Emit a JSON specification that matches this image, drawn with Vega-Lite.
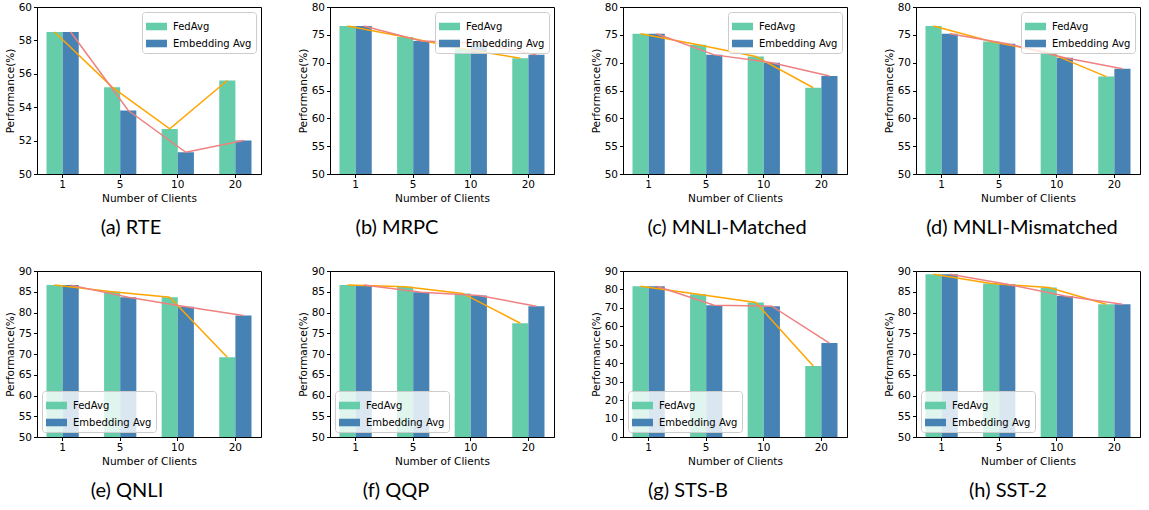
{
  "$schema": "https://vega.github.io/schema/vega-lite/v6.json",
  "padding": {"left": 4, "top": 1, "right": 0, "bottom": 0},
  "background": "white",
  "datasets": {
    "d": [
      {"task": "RTE", "clients": "1", "series": "FedAvg", "value": 58.5},
      {"task": "RTE", "clients": "5", "series": "FedAvg", "value": 55.2},
      {"task": "RTE", "clients": "10", "series": "FedAvg", "value": 52.7},
      {"task": "RTE", "clients": "20", "series": "FedAvg", "value": 55.6},
      {"task": "RTE", "clients": "1", "series": "Embedding Avg", "value": 58.5},
      {"task": "RTE", "clients": "5", "series": "Embedding Avg", "value": 53.8},
      {"task": "RTE", "clients": "10", "series": "Embedding Avg", "value": 51.3},
      {"task": "RTE", "clients": "20", "series": "Embedding Avg", "value": 52.0},
      {"task": "MRPC", "clients": "1", "series": "FedAvg", "value": 76.6},
      {"task": "MRPC", "clients": "5", "series": "FedAvg", "value": 74.6},
      {"task": "MRPC", "clients": "10", "series": "FedAvg", "value": 72.5},
      {"task": "MRPC", "clients": "20", "series": "FedAvg", "value": 70.8},
      {"task": "MRPC", "clients": "1", "series": "Embedding Avg", "value": 76.6},
      {"task": "MRPC", "clients": "5", "series": "Embedding Avg", "value": 73.9},
      {"task": "MRPC", "clients": "10", "series": "Embedding Avg", "value": 73.5},
      {"task": "MRPC", "clients": "20", "series": "Embedding Avg", "value": 71.4},
      {"task": "MNLI-M", "clients": "1", "series": "FedAvg", "value": 75.2},
      {"task": "MNLI-M", "clients": "5", "series": "FedAvg", "value": 73.2},
      {"task": "MNLI-M", "clients": "10", "series": "FedAvg", "value": 71.1},
      {"task": "MNLI-M", "clients": "20", "series": "FedAvg", "value": 65.5},
      {"task": "MNLI-M", "clients": "1", "series": "Embedding Avg", "value": 75.2},
      {"task": "MNLI-M", "clients": "5", "series": "Embedding Avg", "value": 71.4},
      {"task": "MNLI-M", "clients": "10", "series": "Embedding Avg", "value": 70.0},
      {"task": "MNLI-M", "clients": "20", "series": "Embedding Avg", "value": 67.6},
      {"task": "MNLI-MM", "clients": "1", "series": "FedAvg", "value": 76.6},
      {"task": "MNLI-MM", "clients": "5", "series": "FedAvg", "value": 73.8},
      {"task": "MNLI-MM", "clients": "10", "series": "FedAvg", "value": 71.8},
      {"task": "MNLI-MM", "clients": "20", "series": "FedAvg", "value": 67.5},
      {"task": "MNLI-MM", "clients": "1", "series": "Embedding Avg", "value": 75.2},
      {"task": "MNLI-MM", "clients": "5", "series": "Embedding Avg", "value": 73.4},
      {"task": "MNLI-MM", "clients": "10", "series": "Embedding Avg", "value": 70.9},
      {"task": "MNLI-MM", "clients": "20", "series": "Embedding Avg", "value": 68.9},
      {"task": "QNLI", "clients": "1", "series": "FedAvg", "value": 86.6},
      {"task": "QNLI", "clients": "5", "series": "FedAvg", "value": 85.0},
      {"task": "QNLI", "clients": "10", "series": "FedAvg", "value": 83.7},
      {"task": "QNLI", "clients": "20", "series": "FedAvg", "value": 69.2},
      {"task": "QNLI", "clients": "1", "series": "Embedding Avg", "value": 86.6},
      {"task": "QNLI", "clients": "5", "series": "Embedding Avg", "value": 83.7},
      {"task": "QNLI", "clients": "10", "series": "Embedding Avg", "value": 81.4},
      {"task": "QNLI", "clients": "20", "series": "Embedding Avg", "value": 79.3},
      {"task": "QQP", "clients": "1", "series": "FedAvg", "value": 86.6},
      {"task": "QQP", "clients": "5", "series": "FedAvg", "value": 86.2},
      {"task": "QQP", "clients": "10", "series": "FedAvg", "value": 84.6},
      {"task": "QQP", "clients": "20", "series": "FedAvg", "value": 77.4},
      {"task": "QQP", "clients": "1", "series": "Embedding Avg", "value": 86.6},
      {"task": "QQP", "clients": "5", "series": "Embedding Avg", "value": 84.9},
      {"task": "QQP", "clients": "10", "series": "Embedding Avg", "value": 84.1},
      {"task": "QQP", "clients": "20", "series": "Embedding Avg", "value": 81.5},
      {"task": "STS-B", "clients": "1", "series": "FedAvg", "value": 81.7},
      {"task": "STS-B", "clients": "5", "series": "FedAvg", "value": 77.4},
      {"task": "STS-B", "clients": "10", "series": "FedAvg", "value": 72.9},
      {"task": "STS-B", "clients": "20", "series": "FedAvg", "value": 38.5},
      {"task": "STS-B", "clients": "1", "series": "Embedding Avg", "value": 81.7},
      {"task": "STS-B", "clients": "5", "series": "Embedding Avg", "value": 71.4},
      {"task": "STS-B", "clients": "10", "series": "Embedding Avg", "value": 70.9},
      {"task": "STS-B", "clients": "20", "series": "Embedding Avg", "value": 50.9},
      {"task": "SST-2", "clients": "1", "series": "FedAvg", "value": 89.2},
      {"task": "SST-2", "clients": "5", "series": "FedAvg", "value": 87.0},
      {"task": "SST-2", "clients": "10", "series": "FedAvg", "value": 86.0},
      {"task": "SST-2", "clients": "20", "series": "FedAvg", "value": 82.0},
      {"task": "SST-2", "clients": "1", "series": "Embedding Avg", "value": 89.2},
      {"task": "SST-2", "clients": "5", "series": "Embedding Avg", "value": 86.8},
      {"task": "SST-2", "clients": "10", "series": "Embedding Avg", "value": 84.0},
      {"task": "SST-2", "clients": "20", "series": "Embedding Avg", "value": 82.0}
    ]
  },
  "config": {
    "font": "DejaVu Sans",
    "view": {"stroke": "#000", "strokeWidth": 1},
    "axis": {"labelFontSize": 10.5, "titleFontSize": 10.5, "titleFontWeight": "normal", "labelColor": "#000", "titleColor": "#000", "tickColor": "#000", "domainColor": "#000", "grid": false, "tickSize": 3.5, "labelPadding": 2, "titlePadding": 3},
    "axisX": {"labelAngle": 0},
    "legend": {"title": null, "offset": 5, "padding": 4, "strokeColor": "#cccccc", "fillColor": "rgba(255,255,255,0.8)", "cornerRadius": 3, "labelFontSize": 10, "labelColor": "#000", "symbolType": "M-1,-0.36H1V0.36H-1Z", "symbolSize": 440, "symbolStrokeWidth": 0, "symbolOpacity": 1, "rowPadding": 1, "labelOffset": 6},
    "title": {"font": "Lato", "fontSize": 20, "fontWeight": "normal", "color": "#000", "orient": "bottom", "offset": 14}
  },
  "vconcat": [
    {
      "hconcat": [
        {
          "width": 224, "height": 167,
          "title": {"text": "(a) RTE", "dx": -18},
          "data": {"name": "d"},
          "transform": [{"filter": "datum.task === 'RTE'"}],
          "encoding": {
            "x": {"field": "clients", "type": "nominal", "sort": ["1", "5", "10", "20"], "scale": {"paddingInner": 0.44, "paddingOuter": 0.165}, "axis": {"title": "Number of Clients"}},
            "xOffset": {"field": "series", "type": "nominal", "sort": ["FedAvg", "Embedding Avg"], "scale": {"domain": ["FedAvg", "Embedding Avg"], "paddingInner": 0, "paddingOuter": 0}},
            "y": {"field": "value", "type": "quantitative", "scale": {"domain": [50, 60], "nice": false, "zero": false}, "axis": {"title": "Performance(%)", "values": [50, 52, 54, 56, 58, 60]}}
          },
          "layer": [
            {"mark": {"type": "bar", "clip": true}, "encoding": {"color": {"field": "series", "type": "nominal", "scale": {"domain": ["FedAvg", "Embedding Avg"], "range": ["#66cdaa", "#4682b4"]}, "legend": {"orient": "top-right"}}}},
            {"transform": [{"filter": "datum.series === 'FedAvg'"}], "mark": {"type": "line", "color": "#ffa500", "strokeWidth": 1.5}, "encoding": {}},
            {"transform": [{"filter": "datum.series === 'Embedding Avg'"}], "mark": {"type": "line", "color": "#f08080", "strokeWidth": 1.5}, "encoding": {}}
          ]
        },
        {
          "width": 224, "height": 167,
          "title": {"text": "(b) MRPC", "dx": -45},
          "data": {"name": "d"},
          "transform": [{"filter": "datum.task === 'MRPC'"}],
          "encoding": {
            "x": {"field": "clients", "type": "nominal", "sort": ["1", "5", "10", "20"], "scale": {"paddingInner": 0.44, "paddingOuter": 0.165}, "axis": {"title": "Number of Clients"}},
            "xOffset": {"field": "series", "type": "nominal", "sort": ["FedAvg", "Embedding Avg"], "scale": {"domain": ["FedAvg", "Embedding Avg"], "paddingInner": 0, "paddingOuter": 0}},
            "y": {"field": "value", "type": "quantitative", "scale": {"domain": [50, 80], "nice": false, "zero": false}, "axis": {"title": "Performance(%)", "values": [50, 55, 60, 65, 70, 75, 80]}}
          },
          "layer": [
            {"mark": {"type": "bar", "clip": true}, "encoding": {"color": {"field": "series", "type": "nominal", "scale": {"domain": ["FedAvg", "Embedding Avg"], "range": ["#66cdaa", "#4682b4"]}, "legend": {"orient": "top-right"}}}},
            {"transform": [{"filter": "datum.series === 'FedAvg'"}], "mark": {"type": "line", "color": "#ffa500", "strokeWidth": 1.5}, "encoding": {}},
            {"transform": [{"filter": "datum.series === 'Embedding Avg'"}], "mark": {"type": "line", "color": "#f08080", "strokeWidth": 1.5}, "encoding": {}}
          ]
        },
        {
          "width": 224, "height": 167,
          "title": {"text": "(c) MNLI-Matched", "dx": -8},
          "data": {"name": "d"},
          "transform": [{"filter": "datum.task === 'MNLI-M'"}],
          "encoding": {
            "x": {"field": "clients", "type": "nominal", "sort": ["1", "5", "10", "20"], "scale": {"paddingInner": 0.44, "paddingOuter": 0.165}, "axis": {"title": "Number of Clients"}},
            "xOffset": {"field": "series", "type": "nominal", "sort": ["FedAvg", "Embedding Avg"], "scale": {"domain": ["FedAvg", "Embedding Avg"], "paddingInner": 0, "paddingOuter": 0}},
            "y": {"field": "value", "type": "quantitative", "scale": {"domain": [50, 80], "nice": false, "zero": false}, "axis": {"title": "Performance(%)", "values": [50, 55, 60, 65, 70, 75, 80]}}
          },
          "layer": [
            {"mark": {"type": "bar", "clip": true}, "encoding": {"color": {"field": "series", "type": "nominal", "scale": {"domain": ["FedAvg", "Embedding Avg"], "range": ["#66cdaa", "#4682b4"]}, "legend": {"orient": "top-right"}}}},
            {"transform": [{"filter": "datum.series === 'FedAvg'"}], "mark": {"type": "line", "color": "#ffa500", "strokeWidth": 1.5}, "encoding": {}},
            {"transform": [{"filter": "datum.series === 'Embedding Avg'"}], "mark": {"type": "line", "color": "#f08080", "strokeWidth": 1.5}, "encoding": {}}
          ]
        },
        {
          "width": 224, "height": 167,
          "title": {"text": "(d) MNLI-Mismatched", "dx": -6},
          "data": {"name": "d"},
          "transform": [{"filter": "datum.task === 'MNLI-MM'"}],
          "encoding": {
            "x": {"field": "clients", "type": "nominal", "sort": ["1", "5", "10", "20"], "scale": {"paddingInner": 0.44, "paddingOuter": 0.165}, "axis": {"title": "Number of Clients"}},
            "xOffset": {"field": "series", "type": "nominal", "sort": ["FedAvg", "Embedding Avg"], "scale": {"domain": ["FedAvg", "Embedding Avg"], "paddingInner": 0, "paddingOuter": 0}},
            "y": {"field": "value", "type": "quantitative", "scale": {"domain": [50, 80], "nice": false, "zero": false}, "axis": {"title": "Performance(%)", "values": [50, 55, 60, 65, 70, 75, 80]}}
          },
          "layer": [
            {"mark": {"type": "bar", "clip": true}, "encoding": {"color": {"field": "series", "type": "nominal", "scale": {"domain": ["FedAvg", "Embedding Avg"], "range": ["#66cdaa", "#4682b4"]}, "legend": {"orient": "top-right"}}}},
            {"transform": [{"filter": "datum.series === 'FedAvg'"}], "mark": {"type": "line", "color": "#ffa500", "strokeWidth": 1.5}, "encoding": {}},
            {"transform": [{"filter": "datum.series === 'Embedding Avg'"}], "mark": {"type": "line", "color": "#f08080", "strokeWidth": 1.5}, "encoding": {}}
          ]
        }
      ],
      "spacing": 35,
      "resolve": {"scale": {"color": "independent", "x": "independent", "y": "independent", "xOffset": "independent"}, "legend": {"color": "independent"}}
    },
    {
      "hconcat": [
        {
          "width": 224, "height": 166,
          "title": {"text": "(e) QNLI", "dx": -22},
          "data": {"name": "d"},
          "transform": [{"filter": "datum.task === 'QNLI'"}],
          "encoding": {
            "x": {"field": "clients", "type": "nominal", "sort": ["1", "5", "10", "20"], "scale": {"paddingInner": 0.44, "paddingOuter": 0.165}, "axis": {"title": "Number of Clients"}},
            "xOffset": {"field": "series", "type": "nominal", "sort": ["FedAvg", "Embedding Avg"], "scale": {"domain": ["FedAvg", "Embedding Avg"], "paddingInner": 0, "paddingOuter": 0}},
            "y": {"field": "value", "type": "quantitative", "scale": {"domain": [50, 90], "nice": false, "zero": false}, "axis": {"title": "Performance(%)", "values": [50, 55, 60, 65, 70, 75, 80, 85, 90]}}
          },
          "layer": [
            {"mark": {"type": "bar", "clip": true}, "encoding": {"color": {"field": "series", "type": "nominal", "scale": {"domain": ["FedAvg", "Embedding Avg"], "range": ["#66cdaa", "#4682b4"]}, "legend": {"orient": "bottom-left"}}}},
            {"transform": [{"filter": "datum.series === 'FedAvg'"}], "mark": {"type": "line", "color": "#ffa500", "strokeWidth": 1.5}, "encoding": {}},
            {"transform": [{"filter": "datum.series === 'Embedding Avg'"}], "mark": {"type": "line", "color": "#f08080", "strokeWidth": 1.5}, "encoding": {}}
          ]
        },
        {
          "width": 224, "height": 166,
          "title": {"text": "(f) QQP", "dx": -46},
          "data": {"name": "d"},
          "transform": [{"filter": "datum.task === 'QQP'"}],
          "encoding": {
            "x": {"field": "clients", "type": "nominal", "sort": ["1", "5", "10", "20"], "scale": {"paddingInner": 0.44, "paddingOuter": 0.165}, "axis": {"title": "Number of Clients"}},
            "xOffset": {"field": "series", "type": "nominal", "sort": ["FedAvg", "Embedding Avg"], "scale": {"domain": ["FedAvg", "Embedding Avg"], "paddingInner": 0, "paddingOuter": 0}},
            "y": {"field": "value", "type": "quantitative", "scale": {"domain": [50, 90], "nice": false, "zero": false}, "axis": {"title": "Performance(%)", "values": [50, 55, 60, 65, 70, 75, 80, 85, 90]}}
          },
          "layer": [
            {"mark": {"type": "bar", "clip": true}, "encoding": {"color": {"field": "series", "type": "nominal", "scale": {"domain": ["FedAvg", "Embedding Avg"], "range": ["#66cdaa", "#4682b4"]}, "legend": {"orient": "bottom-left"}}}},
            {"transform": [{"filter": "datum.series === 'FedAvg'"}], "mark": {"type": "line", "color": "#ffa500", "strokeWidth": 1.5}, "encoding": {}},
            {"transform": [{"filter": "datum.series === 'Embedding Avg'"}], "mark": {"type": "line", "color": "#f08080", "strokeWidth": 1.5}, "encoding": {}}
          ]
        },
        {
          "width": 224, "height": 166,
          "title": {"text": "(g) STS-B", "dx": -47},
          "data": {"name": "d"},
          "transform": [{"filter": "datum.task === 'STS-B'"}],
          "encoding": {
            "x": {"field": "clients", "type": "nominal", "sort": ["1", "5", "10", "20"], "scale": {"paddingInner": 0.44, "paddingOuter": 0.165}, "axis": {"title": "Number of Clients"}},
            "xOffset": {"field": "series", "type": "nominal", "sort": ["FedAvg", "Embedding Avg"], "scale": {"domain": ["FedAvg", "Embedding Avg"], "paddingInner": 0, "paddingOuter": 0}},
            "y": {"field": "value", "type": "quantitative", "scale": {"domain": [0, 90], "nice": false, "zero": false}, "axis": {"title": "Performance(%)", "values": [0, 10, 20, 30, 40, 50, 60, 70, 80, 90]}}
          },
          "layer": [
            {"mark": {"type": "bar", "clip": true}, "encoding": {"color": {"field": "series", "type": "nominal", "scale": {"domain": ["FedAvg", "Embedding Avg"], "range": ["#66cdaa", "#4682b4"]}, "legend": {"orient": "bottom-left"}}}},
            {"transform": [{"filter": "datum.series === 'FedAvg'"}], "mark": {"type": "line", "color": "#ffa500", "strokeWidth": 1.5}, "encoding": {}},
            {"transform": [{"filter": "datum.series === 'Embedding Avg'"}], "mark": {"type": "line", "color": "#f08080", "strokeWidth": 1.5}, "encoding": {}}
          ]
        },
        {
          "width": 224, "height": 166,
          "title": {"text": "(h) SST-2", "dx": -20},
          "data": {"name": "d"},
          "transform": [{"filter": "datum.task === 'SST-2'"}],
          "encoding": {
            "x": {"field": "clients", "type": "nominal", "sort": ["1", "5", "10", "20"], "scale": {"paddingInner": 0.44, "paddingOuter": 0.165}, "axis": {"title": "Number of Clients"}},
            "xOffset": {"field": "series", "type": "nominal", "sort": ["FedAvg", "Embedding Avg"], "scale": {"domain": ["FedAvg", "Embedding Avg"], "paddingInner": 0, "paddingOuter": 0}},
            "y": {"field": "value", "type": "quantitative", "scale": {"domain": [50, 90], "nice": false, "zero": false}, "axis": {"title": "Performance(%)", "values": [50, 55, 60, 65, 70, 75, 80, 85, 90]}}
          },
          "layer": [
            {"mark": {"type": "bar", "clip": true}, "encoding": {"color": {"field": "series", "type": "nominal", "scale": {"domain": ["FedAvg", "Embedding Avg"], "range": ["#66cdaa", "#4682b4"]}, "legend": {"orient": "bottom-left"}}}},
            {"transform": [{"filter": "datum.series === 'FedAvg'"}], "mark": {"type": "line", "color": "#ffa500", "strokeWidth": 1.5}, "encoding": {}},
            {"transform": [{"filter": "datum.series === 'Embedding Avg'"}], "mark": {"type": "line", "color": "#f08080", "strokeWidth": 1.5}, "encoding": {}}
          ]
        }
      ],
      "spacing": 35,
      "resolve": {"scale": {"color": "independent", "x": "independent", "y": "independent", "xOffset": "independent"}, "legend": {"color": "independent"}}
    }
  ],
  "spacing": 27,
  "resolve": {"scale": {"color": "independent", "x": "independent", "y": "independent", "xOffset": "independent"}, "legend": {"color": "independent"}}
}
